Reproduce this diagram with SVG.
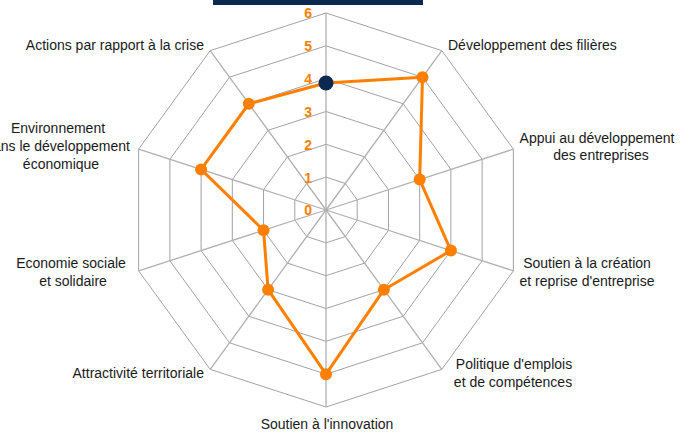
<svg xmlns="http://www.w3.org/2000/svg" width="689" height="434" viewBox="0 0 689 434">
<style>
.ring{fill:none;stroke:#8a8a8a;stroke-width:0.8}
.spoke{stroke:#b0b0b0;stroke-width:1.3}
.lbl{font-family:"Liberation Sans",Arial,sans-serif;font-size:14px;fill:#1a1a1a}
.num{font-family:"Liberation Sans",Arial,sans-serif;font-size:14px;font-weight:bold;fill:#ff7f00;text-anchor:end}
.data{fill:none;stroke:#ff7f00;stroke-width:3;stroke-linejoin:round}
.dot{fill:#ff7f00}
</style>
<rect x="213" y="0" width="210" height="5" fill="#0a2850"/>
<g id="grid">
<polygon class="ring" points="326,177.17 345.30,183.44 357.22,199.85 357.22,220.15 345.30,236.56 326,242.83 306.70,236.56 294.78,220.15 294.78,199.85 306.70,183.44"/>
<polygon class="ring" points="326,144.33 364.60,156.87 388.46,189.71 388.46,230.29 364.60,263.13 326,275.67 287.40,263.13 263.54,230.29 263.54,189.71 287.40,156.87"/>
<polygon class="ring" points="326,111.5 383.90,130.31 419.68,179.56 419.68,240.44 383.90,289.69 326,308.5 268.10,289.69 232.32,240.44 232.32,179.56 268.10,130.31"/>
<polygon class="ring" points="326,78.67 403.19,103.75 450.90,169.42 450.90,250.58 403.19,316.25 326,341.33 248.81,316.25 201.10,250.58 201.10,169.42 248.81,103.75"/>
<polygon class="ring" points="326,45.83 422.50,77.19 482.13,159.27 482.13,260.73 422.50,342.81 326,374.17 229.50,342.81 169.87,260.73 169.87,159.27 229.50,77.19"/>
<polygon class="ring" points="326,13 441.79,50.62 513.36,149.12 513.36,270.88 441.79,369.38 326,407 210.21,369.38 138.64,270.88 138.64,149.12 210.21,50.62"/>
<line class="spoke" x1="326" y1="210" x2="326" y2="13"/>
<line class="spoke" x1="326" y1="210" x2="441.79" y2="50.62"/>
<line class="spoke" x1="326" y1="210" x2="513.36" y2="149.12"/>
<line class="spoke" x1="326" y1="210" x2="513.36" y2="270.88"/>
<line class="spoke" x1="326" y1="210" x2="441.79" y2="369.38"/>
<line class="spoke" x1="326" y1="210" x2="326" y2="407"/>
<line class="spoke" x1="326" y1="210" x2="210.21" y2="369.38"/>
<line class="spoke" x1="326" y1="210" x2="138.64" y2="270.88"/>
<line class="spoke" x1="326" y1="210" x2="138.64" y2="149.12"/>
<line class="spoke" x1="326" y1="210" x2="210.21" y2="50.62"/>
</g>
<g id="scale">
<text class="num" x="312" y="215">0</text>
<text class="num" x="312" y="183">1</text>
<text class="num" x="312" y="150">2</text>
<text class="num" x="312" y="117">3</text>
<text class="num" x="312" y="84">4</text>
<text class="num" x="312" y="51">5</text>
<text class="num" x="312" y="18">6</text>
</g>
<g id="connectors">
<polygon class="data" points="326,83 422.50,77.19 419.68,179.56 450.90,250.58 383.90,289.69 326,374.17 268.10,289.69 263.54,230.29 201.10,169.42 248.81,103.75"/>
</g>
<g id="points">
<circle class="dot" cx="422.50" cy="77.19" r="6"/>
<circle class="dot" cx="419.68" cy="179.56" r="6"/>
<circle class="dot" cx="450.90" cy="250.58" r="6"/>
<circle class="dot" cx="383.90" cy="289.69" r="6"/>
<circle class="dot" cx="326" cy="374.17" r="6"/>
<circle class="dot" cx="268.10" cy="289.69" r="6"/>
<circle class="dot" cx="263.54" cy="230.29" r="6"/>
<circle class="dot" cx="201.10" cy="169.42" r="6"/>
<circle class="dot" cx="248.81" cy="103.75" r="6"/>
<circle cx="326" cy="83" r="7.5" fill="#0a2850"/>
</g>
<g id="label-filieres"><text class="lbl" x="448" y="50">Développement des filières</text></g>
<g id="label-appui"><text class="lbl" x="597" y="143" text-anchor="middle">Appui au développement</text><text class="lbl" x="601" y="160" text-anchor="middle">des entreprises</text></g>
<g id="label-creation"><text class="lbl" x="587" y="268" text-anchor="middle">Soutien à la création</text><text class="lbl" x="587" y="286" text-anchor="middle">et reprise d'entreprise</text></g>
<g id="label-emplois"><text class="lbl" x="514" y="369" text-anchor="middle">Politique d'emplois</text><text class="lbl" x="513" y="387" text-anchor="middle">et de compétences</text></g>
<g id="label-innovation"><text class="lbl" x="327" y="429" text-anchor="middle">Soutien à l'innovation</text></g>
<g id="label-attractivite"><text class="lbl" x="204" y="378" text-anchor="end">Attractivité territoriale</text></g>
<g id="label-economie"><text class="lbl" x="71" y="268" text-anchor="middle">Economie sociale</text><text class="lbl" x="73" y="286" text-anchor="middle">et solidaire</text></g>
<g id="label-environnement"><text class="lbl" x="58" y="133" text-anchor="middle">Environnement</text><text class="lbl" x="130" y="151" text-anchor="end">dans le développement</text><text class="lbl" x="61" y="169" text-anchor="middle">économique</text></g>
<g id="label-crise"><text class="lbl" x="204" y="50" text-anchor="end">Actions par rapport à la crise</text></g>
</svg>
